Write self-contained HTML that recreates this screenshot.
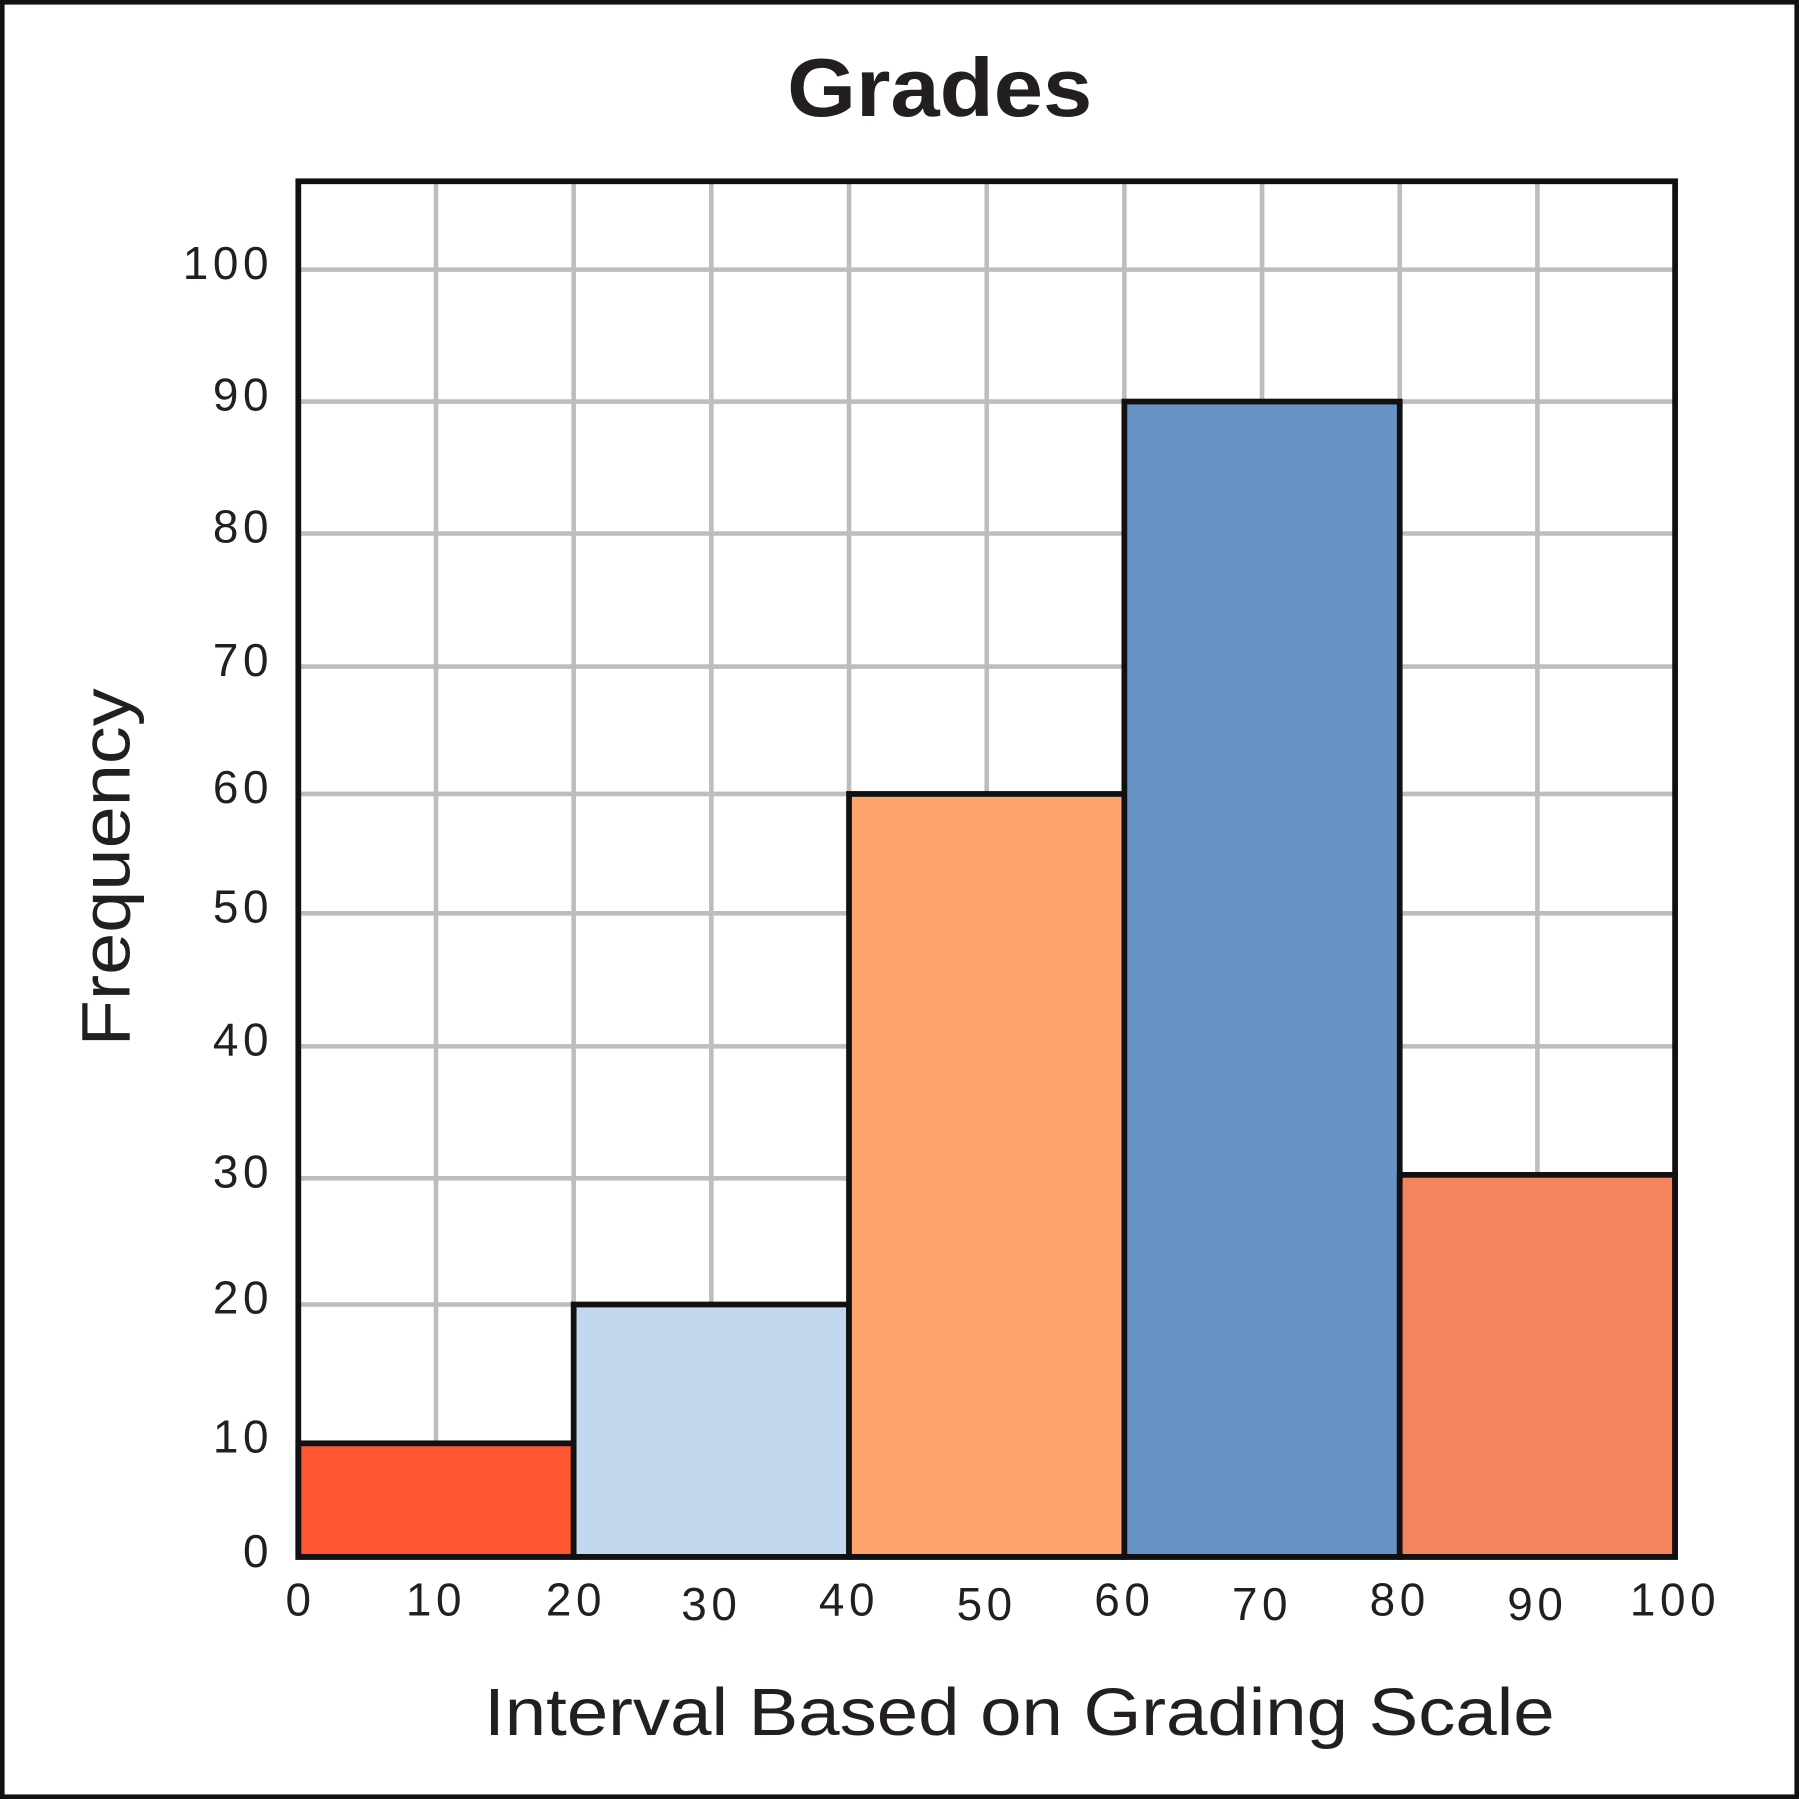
<!DOCTYPE html>
<html><head><meta charset="utf-8"><style>
html,body{margin:0;padding:0;background:#fff}
svg{display:block}
text{font-family:"Liberation Sans",sans-serif;fill:#231f20}
</style></head><body>
<svg width="1799" height="1799" viewBox="0 0 1568 1568" xmlns="http://www.w3.org/2000/svg">
<rect x="2" y="2" width="1564" height="1564" fill="#fff" stroke="#111" stroke-width="4"/>
<text x="686" y="101" font-size="72" font-weight="bold" textLength="266" lengthAdjust="spacingAndGlyphs">Grades</text>
<g stroke="#bdbdbd" stroke-width="4">
<line x1="380" y1="158" x2="380" y2="1357"/><line x1="500" y1="158" x2="500" y2="1357"/>
<line x1="620" y1="158" x2="620" y2="1357"/><line x1="740" y1="158" x2="740" y2="1357"/>
<line x1="860" y1="158" x2="860" y2="1357"/><line x1="980" y1="158" x2="980" y2="1357"/>
<line x1="1100" y1="158" x2="1100" y2="1357"/><line x1="1220" y1="158" x2="1220" y2="1357"/>
<line x1="1340" y1="158" x2="1340" y2="1357"/>
<line x1="260" y1="235" x2="1460" y2="235"/><line x1="260" y1="350" x2="1460" y2="350"/>
<line x1="260" y1="465" x2="1460" y2="465"/><line x1="260" y1="581" x2="1460" y2="581"/>
<line x1="260" y1="692" x2="1460" y2="692"/><line x1="260" y1="796" x2="1460" y2="796"/>
<line x1="260" y1="912" x2="1460" y2="912"/><line x1="260" y1="1027" x2="1460" y2="1027"/>
<line x1="260" y1="1137" x2="1460" y2="1137"/><line x1="260" y1="1258" x2="1460" y2="1258"/>
</g>
<g stroke="#111" stroke-width="5">
<rect x="260" y="1258" width="240" height="99" fill="#FF5530"/>
<rect x="500" y="1137" width="240" height="220" fill="#C3D7EE"/>
<rect x="740" y="692" width="240" height="665" fill="#FFA36F"/>
<rect x="980" y="350" width="240" height="1007" fill="#6893C6"/>
<rect x="1220" y="1024" width="240" height="333" fill="#F4845B"/>
</g>
<rect x="260" y="158" width="1200" height="1199" fill="none" stroke="#111" stroke-width="5"/>
<g font-size="40" text-anchor="end" letter-spacing="4">
<text x="238" y="243">100</text><text x="238" y="358">90</text><text x="238" y="473">80</text>
<text x="238" y="589">70</text><text x="238" y="700">60</text><text x="238" y="804">50</text>
<text x="238" y="920">40</text><text x="238" y="1035">30</text><text x="238" y="1145">20</text>
<text x="238" y="1266">10</text><text x="238" y="1366">0</text>
</g>
<g font-size="40" text-anchor="middle" letter-spacing="4">
<text x="262" y="1408">0</text><text x="380" y="1408">10</text><text x="502" y="1408">20</text>
<text x="620" y="1412">30</text><text x="740" y="1408">40</text><text x="860" y="1412">50</text>
<text x="980" y="1408">60</text><text x="1100" y="1412">70</text><text x="1220" y="1408">80</text>
<text x="1340" y="1412">90</text><text x="1460" y="1408">100</text>
</g>
<text x="422" y="1512" font-size="58" textLength="933" lengthAdjust="spacingAndGlyphs">Interval Based on Grading Scale</text>
<text transform="translate(113,912) rotate(-90)" font-size="60" textLength="312" lengthAdjust="spacingAndGlyphs">Frequency</text>
</svg>
</body></html>
